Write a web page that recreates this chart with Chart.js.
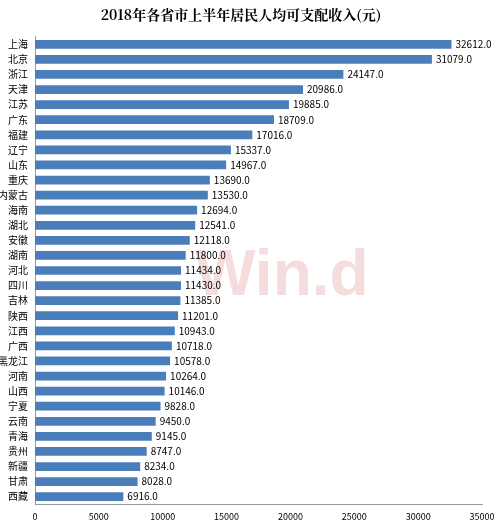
<!DOCTYPE html>
<html>
<head>
<meta charset="utf-8">
<script src="https://cdn.jsdelivr.net/npm/chart.js@4"></script>
<style>
  body { margin: 0; background: #fff; }
</style>
</head>
<body>
<canvas id="myChart" width="500" height="527"></canvas>
<script>
const provinces = ["上海","北京","浙江","天津","江苏","广东","福建","辽宁","山东","重庆","内蒙古","海南","湖北","安徽","湖南","河北","四川","吉林","陕西","江西","广西","黑龙江","河南","山西","宁夏","云南","青海","贵州","新疆","甘肃","西藏"];
const income = [32612,31079,24147,20986,19885,18709,17016,15337,14967,13690,13530,12694,12541,12118,11800,11434,11430,11385,11201,10943,10718,10578,10264,10146,9828,9450,9145,8747,8234,8028,6916];
const xTicks = [0,5000,10000,15000,20000,25000,30000,35000];

const FONT = "'Noto Sans CJK SC', sans-serif";

const valueLabels = {
  id: "valueLabels",
  afterDatasetsDraw(chart) {
    const c = chart.ctx;
    const meta = chart.getDatasetMeta(0);
    c.save();
    c.font = "10px " + FONT;
    c.fillStyle = "#000";
    c.textBaseline = "middle";
    meta.data.forEach((bar, i) => {
      c.fillText(income[i].toFixed(1), bar.x + 4, bar.y);
    });
    c.restore();
  }
};

const watermark = {
  id: "watermark",
  beforeDatasetsDraw(chart) {
    const c = chart.ctx;
    c.save();
    c.font = "bold 64px Arial";
    c.fillStyle = "rgba(220,120,120,0.25)";
    c.fillText("Win.d", 195, 295);
    c.restore();
  }
};

const ctx = document.getElementById("myChart");
new Chart(ctx, {
  type: "bar",
  data: {
    labels: provinces,
    datasets: [
      {
        data: income,
        backgroundColor: "#4a7ebb",
        barPercentage: 0.58,
        categoryPercentage: 1,
      },
    ],
  },
  plugins: [valueLabels, watermark],
  options: {
    indexAxis: "y",
    responsive: false,
    animation: false,
    devicePixelRatio: 1,
    layout: { padding: { left: 0, right: 18, top: 0, bottom: 2 } },
    plugins: {
      legend: { display: false },
      tooltip: { enabled: false },
      title: {
        display: true,
        text: "2018年各省市上半年居民人均可支配收入(元)",
        color: "#000",
        font: { family: "'Noto Serif CJK SC', 'Noto Sans CJK SC', serif", size: 14, weight: "bold" },
        padding: { top: 6, bottom: 14 },
      },
    },
    scales: {
      x: {
        min: 0,
        max: 35000,
        afterBuildTicks: (axis) => { axis.ticks = xTicks.map(v => ({ value: v })); },
        afterFit: (axis) => { axis.paddingRight = 18; },
        grid: { display: false, drawTicks: true, tickLength: 4, color: "#999" },
        border: { color: "#999" },
        ticks: { color: "#000", font: { family: FONT, size: 9 }, maxRotation: 0, callback: (v) => String(v) },
      },
      y: {
        afterFit: (axis) => { axis.width = 35; },
        grid: { display: false, tickLength: 4, color: "#999" },
        border: { color: "#999" },
        ticks: { color: "#000", font: { family: FONT, size: 10 }, autoSkip: false, padding: 3 },
      },
    },
  },
});
</script>
</body>
</html>
